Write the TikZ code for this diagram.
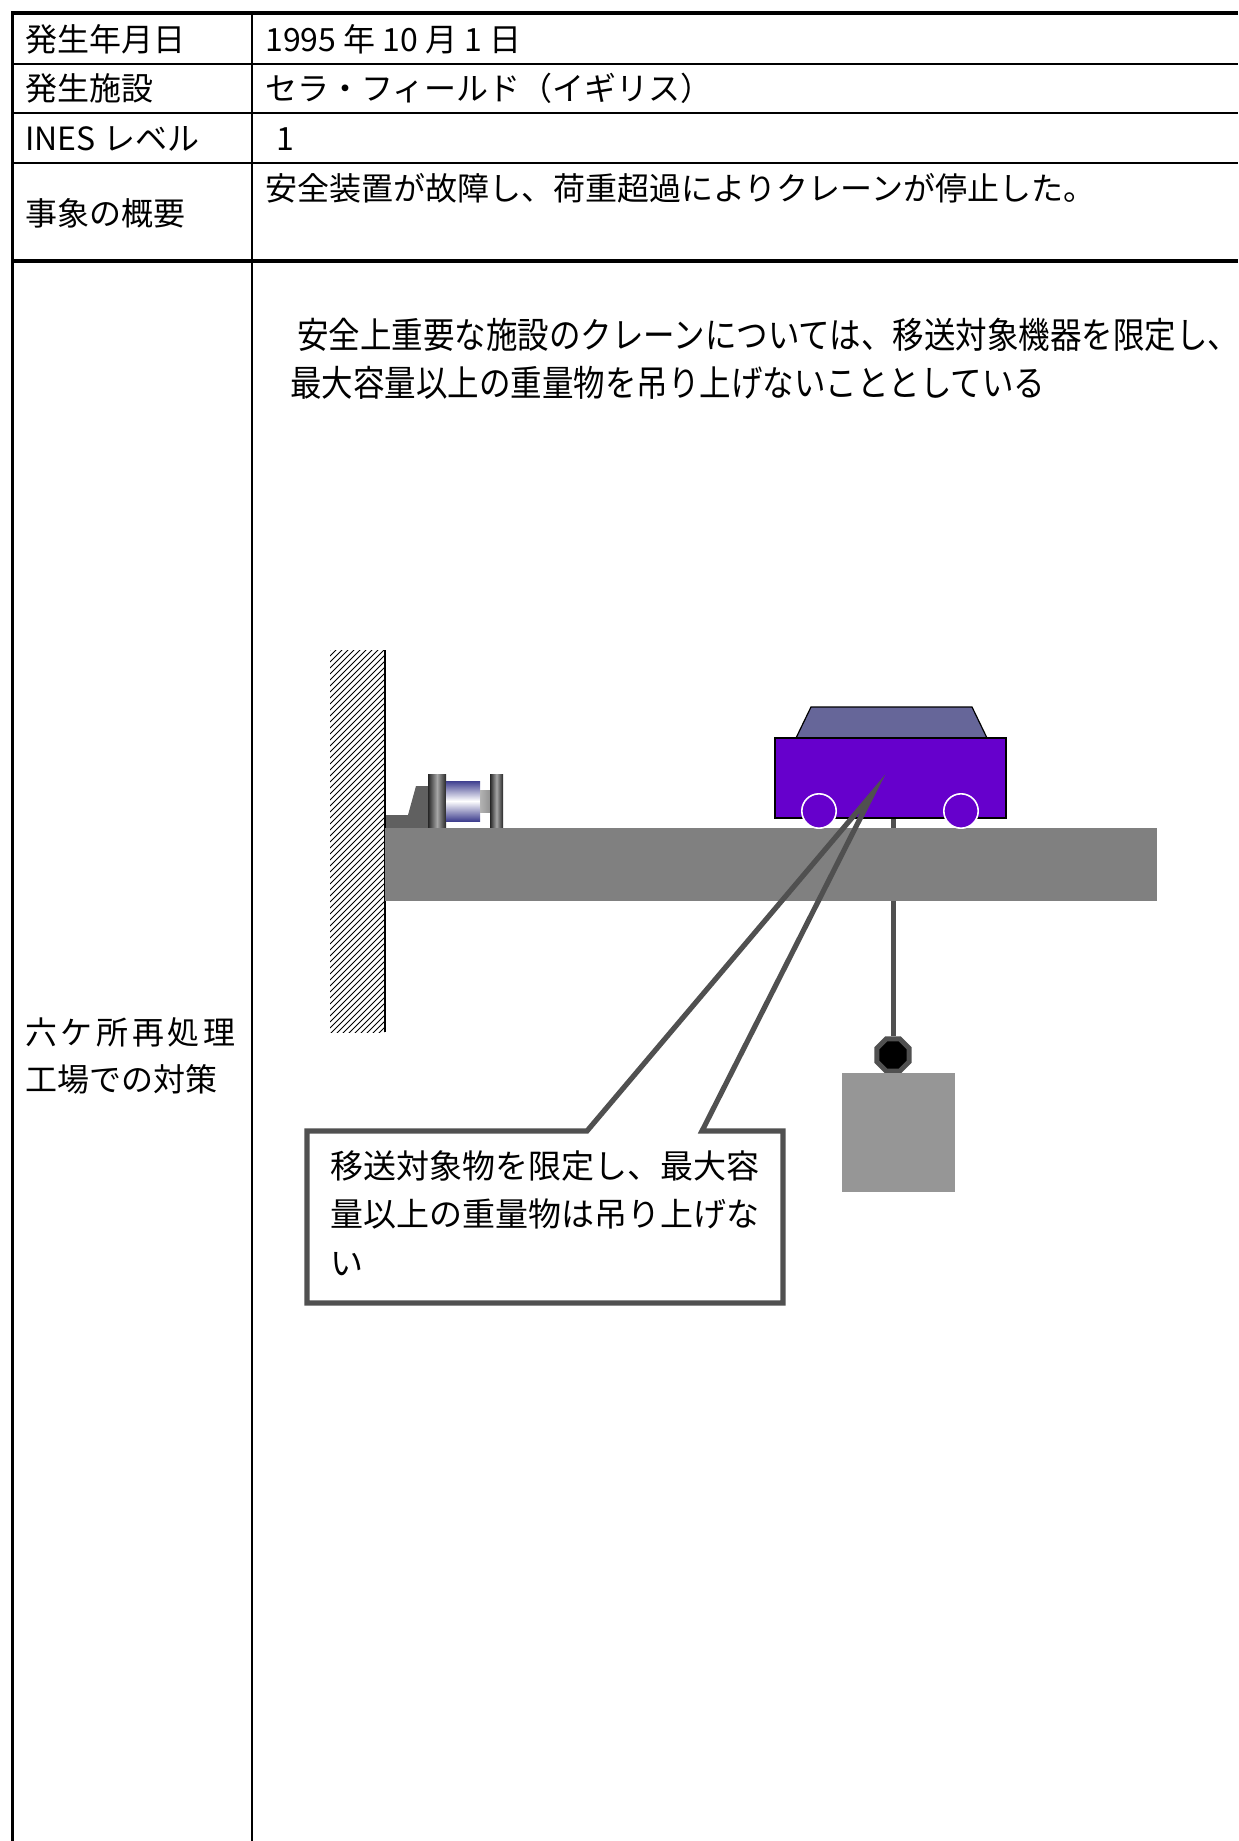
\documentclass[tikz,border=0pt]{standalone}
\usepackage{fontspec}
\usepackage{tikz}
\usetikzlibrary{shapes.geometric}
\newfontfamily\jp{Noto Sans CJK JP}
\newfontfamily\jpnarrow[FakeStretch=0.875]{Noto Sans CJK JP}
\definecolor{steel}{HTML}{808080}
\definecolor{cab}{HTML}{666699}
\definecolor{trolley}{HTML}{6600CC}
\definecolor{load}{HTML}{969696}
\definecolor{wire}{HTML}{505050}
\definecolor{buffer}{HTML}{3F3F8F}

\begin{document}
\begin{tikzpicture}[x=0.5pt,y=-0.5pt,
  cell/.style={anchor=west,inner sep=0pt,font=\jp\fontsize{16}{19}\selectfont,text height=14.1pt,text depth=1.9pt},
  note/.style={anchor=north west,inner sep=0pt,align=left,font=\jpnarrow\fontsize{18}{24}\selectfont},
  balloon/.style={anchor=north west,inner sep=0pt,align=left,font=\jp\fontsize{16.5}{24.25}\selectfont},
  thinrule/.style={line width=1pt},
  thickrule/.style={line width=1.8pt}]
  \useasboundingbox (0,0) rectangle (1238,1841);

  % table frame
  \draw[thickrule] (11,13) -- (1238,13);
  \draw[thickrule] (12.5,12) -- (12.5,1841);
  \draw[thinrule] (251.5,13) -- (251.5,1841);
  \foreach \y in {64,113,163}
    \draw[thinrule] (12.5,\y) -- (1238,\y);
  \draw[thickrule] (12.5,261) -- (1238,261);

  % header rows
  \node[cell] (dateL) at (25,39) {発生年月日};
  \node[cell] (dateR) at (265,39) {1995 年 10 月 1 日};
  \node[cell] (siteL) at (25,88) {発生施設};
  \node[cell] (siteR) at (265,88) {セラ・フィールド（イギリス）};
  \node[cell] (inesL) at (25,138) {INES レベル};
  \node[cell] (inesR) at (276,138) {1};
  \node[cell] (sumL) at (25,213) {事象の概要};
  \node[cell] (sumR) at (265,188) {安全装置が故障し、荷重超過によりクレーンが停止した。};

  % countermeasure row
  \node[cell] (planA) at (25,1032) {\makebox[105pt][s]{六\hfill ケ\hfill 所\hfill 再\hfill 処\hfill 理}};
  \node[cell] (planB) at (25,1079) {工場での対策};
  \node[note] (policy) at (290,318)
    {\hspace*{3.5pt}安全上重要な施設のクレーンについては、移送対象機器を限定し、\\最大容量以上の重量物を吊り上げないこととしている};

  % wall with hatching
  \begin{scope}
    \clip (330,650) rectangle (385,1032);
    \foreach \k in {650,656,...,1092}
      \draw[line width=0.5pt] (330,\k) -- (385,\k-55);
  \end{scope}
  \draw[line width=1pt] (385,650) -- (385,1032);

  % buffer stop
  \fill[gray!75!black] (386,828) -- (386,815) -- (408,815) -- (416,786) -- (428,786) -- (428,828) -- cycle;
  \shade[left color=black!85,right color=black!85,middle color=gray!70] (428,774) rectangle (446,828);
  \shade[top color=buffer,bottom color=buffer,middle color=white] (446,781) rectangle (480,821);
  \shade[left color=gray!60,right color=gray!85] (480,790) rectangle (490,812);
  \shade[left color=black!85,right color=black!85,middle color=gray!70] (490,774) rectangle (503,828);

  % hoist rope, hook and load
  \coordinate (hoist) at (893,818);
  \node[regular polygon,regular polygon sides=8,draw=wire,fill=black,line width=2.5pt,
        minimum size=17.5pt,inner sep=0pt] (hook) at (893,1055) {};
  \draw[wire,line width=2.5pt] (hoist) -- (hook.north);
  \fill[load] (842,1073) rectangle (955,1192);

  % girder
  \fill[steel] (385,828) rectangle (1157,901);

  % trolley
  \draw[fill=cab,line width=0.6pt] (796,738) -- (811,707) -- (972,707) -- (987,738) -- cycle;
  \draw[fill=trolley,line width=0.6pt] (775,738) rectangle (1006,818);
  \foreach \cx in {819,961}
    \draw[white,fill=trolley,line width=0.8pt] (\cx,811) circle[radius=8.6pt];

  % callout
  \fill[white] (307,1131) rectangle (783,1303);
  \draw[wire,line width=2.6pt,line join=miter] (307,1131) -- (587,1131) -- (873,793) -- (702,1131)
    -- (783,1131) -- (783,1303) -- (307,1303) -- cycle;
  \node[balloon] (limit) at (330,1150)
    {移送対象物を限定し、最大容\\量以上の重量物は吊り上げな\\い};
\end{tikzpicture}
\end{document}
